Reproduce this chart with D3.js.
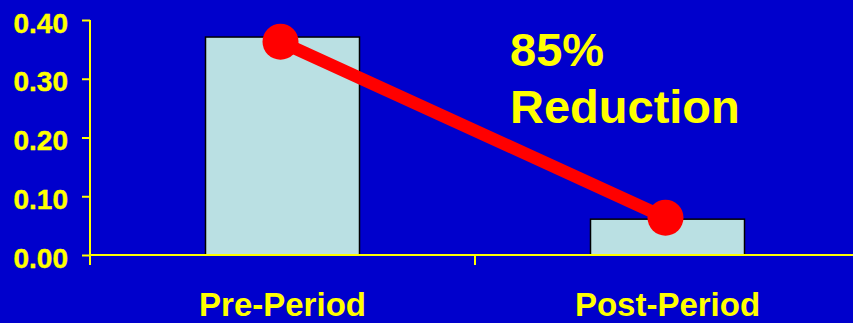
<!DOCTYPE html>
<html><head><meta charset="utf-8">
<script src="https://cdn.jsdelivr.net/npm/d3@7"></script>
<style>html,body{margin:0;padding:0;background:#0000CC;}svg{display:block;}</style>
</head><body>
<svg id="c" width="853" height="323"></svg>
<script>
const categories = ["Pre-Period", "Post-Period"];
const barValues = [0.371, 0.061];
const lineValues = [0.363, 0.0635];
const yTicks = [0, 0.1, 0.2, 0.3, 0.4];
const annotation = ["85%", "Reduction"];

const W = 853, H = 323;
const svg = d3.select("#c");
const yellow = "#FFFF00";
const font = "'Liberation Sans', Arial, sans-serif";

svg.append("rect").attr("width", W).attr("height", H).attr("fill", "#0000CC");

const x = d3.scaleBand().domain(categories).range([90, 860]).paddingInner(0).paddingOuter(0);
const y = d3.scaleLinear().domain([0, 0.4]).range([255, 20]);

// bars
const bw = x.bandwidth() * 0.4;
svg.selectAll("rect.bar").data(categories).join("rect")
  .attr("class", "bar")
  .attr("x", d => x(d) + x.bandwidth() / 2 - bw / 2)
  .attr("y", (d, i) => y(barValues[i]))
  .attr("width", bw)
  .attr("height", (d, i) => y(0) - y(barValues[i]))
  .attr("fill", "#BAE0E3")
  .attr("stroke", "#000")
  .attr("stroke-width", 1.5);

// y axis
const yAxis = d3.axisLeft(y).tickValues(yTicks).tickFormat(d3.format(".2f")).tickSize(8).tickPadding(14);
const gy = svg.append("g").attr("transform", "translate(90,0)").call(yAxis);
gy.select(".domain").remove();
gy.selectAll(".tick line").attr("stroke", yellow).attr("stroke-width", 2);
gy.selectAll(".tick text").attr("fill", yellow).attr("font-family", font)
  .attr("font-weight", "bold").attr("font-size", 28).attr("dy", "0.43em")
  .attr("stroke", yellow).attr("stroke-width", 0.4);
svg.append("line").attr("x1", 90).attr("x2", 90).attr("y1", y(0.4)).attr("y2", 265)
  .attr("stroke", yellow).attr("stroke-width", 2);

// x axis
const xAxis = d3.axisBottom(x).tickSize(0).tickPadding(38);
const gx = svg.append("g").attr("transform", `translate(0,${y(0)})`).call(xAxis);
gx.select(".domain").remove();
gx.selectAll(".tick line").remove();
gx.selectAll(".tick text").attr("fill", yellow).attr("font-family", font)
  .attr("font-weight", "bold").attr("font-size", 33).attr("dy", "0.71em");
svg.append("line").attr("x1", 90).attr("x2", W).attr("y1", y(0)).attr("y2", y(0))
  .attr("stroke", yellow).attr("stroke-width", 2);
svg.append("line").attr("x1", x(categories[1])).attr("x2", x(categories[1]))
  .attr("y1", y(0)).attr("y2", 265).attr("stroke", yellow).attr("stroke-width", 2);

// line
const line = d3.line().x((d, i) => x(categories[i]) + x.bandwidth() / 2 - 2).y(d => y(d));
svg.append("path").datum(lineValues).attr("d", line)
  .attr("fill", "none").attr("stroke", "#FF0000").attr("stroke-width", 12.5);
svg.selectAll("circle.pt").data(lineValues).join("circle")
  .attr("class", "pt")
  .attr("cx", (d, i) => x(categories[i]) + x.bandwidth() / 2 - 2)
  .attr("cy", d => y(d)).attr("r", 18).attr("fill", "#FF0000");

// annotation
svg.append("text").attr("x", 510).attr("y", 66).text(annotation[0])
  .attr("fill", yellow).attr("font-family", font).attr("font-weight", "bold").attr("font-size", 47);
svg.append("text").attr("x", 510).attr("y", 123).text(annotation[1])
  .attr("fill", yellow).attr("font-family", font).attr("font-weight", "bold").attr("font-size", 47);
</script>
</body></html>
